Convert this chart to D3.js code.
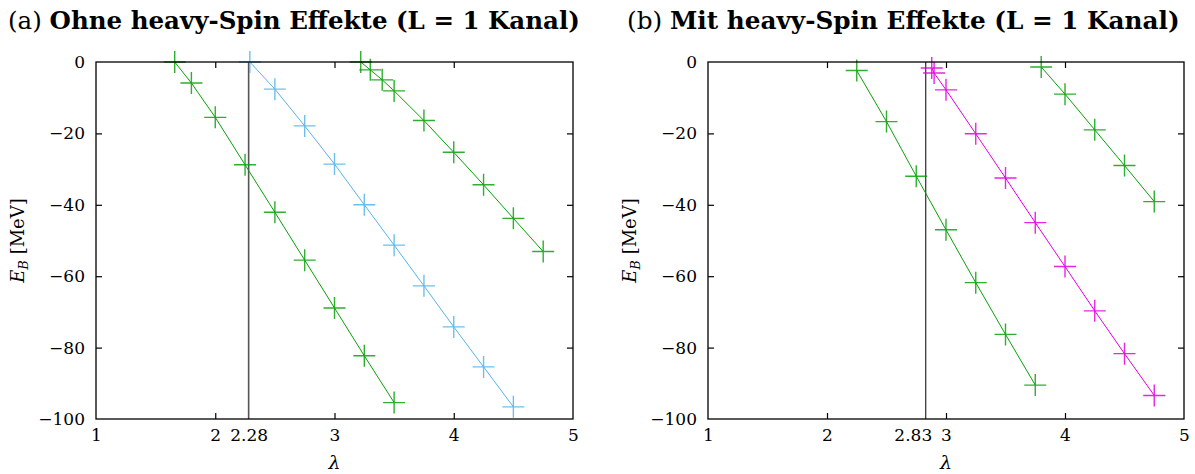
<!DOCTYPE html>
<html>
<head>
<meta charset="utf-8">
<script src="https://cdn.jsdelivr.net/npm/d3@7"></script>
<style>
html,body{margin:0;padding:0;background:#fff;}
svg{display:block;}
text{font-family:"DejaVu Serif",serif;fill:#000;}
</style>
</head>
<body>
<script>
// ---- data ----
const xTicksA = [1, 2, 2.28, 3, 4, 5];
const xTicksB = [1, 2, 2.83, 3, 4, 5];
const yTicks = [0, -20, -40, -60, -80, -100];
const markerA = 2.28;
const markerB = 2.83;

const a1Lambda = [1.66, 1.8, 2.0, 2.25, 2.5, 2.75, 3.0, 3.25, 3.5];
const a1E      = [0, -5.9, -15.5, -28.8, -42.1, -55.5, -68.9, -82.3, -95.4];
const a2Lambda = [2.29, 2.5, 2.75, 3.0, 3.25, 3.5, 3.75, 4.0, 4.25, 4.5];
const a2E      = [0, -7.6, -17.9, -28.6, -40.0, -51.3, -62.7, -74.2, -85.4, -96.6];
const a3Lambda = [3.22, 3.3, 3.4, 3.5, 3.75, 4.0, 4.25, 4.5, 4.75];
const a3E      = [0, -2.2, -5.0, -8.1, -16.4, -25.3, -34.4, -43.8, -53.1];

const b1Lambda = [2.25, 2.5, 2.75, 3.0, 3.25, 3.5, 3.75];
const b1E      = [-2.4, -16.7, -32.0, -47.0, -61.8, -76.3, -90.5];
const b2Lambda = [2.88, 2.9, 3.0, 3.25, 3.5, 3.75, 4.0, 4.25, 4.5, 4.75];
const b2E      = [-1.7, -3.1, -7.8, -20.1, -32.5, -45.0, -57.3, -69.7, -81.7, -93.4];
const b3Lambda = [3.8, 4.0, 4.25, 4.5, 4.75];
const b3E      = [-1.4, -9.0, -19.0, -29.0, -39.1];

const GREEN = "#0aa00a", BLUE = "#56b4e9", MAGENTA = "#e000e0";

const zip = (xs, ys) => xs.map((x, i) => ({x, y: ys[i]}));

const W = 1195, H = 474;
const svg = d3.select("body").append("svg").attr("width", W).attr("height", H);

function panel(opt) {
  const x = d3.scaleLinear().domain([1, 5]).range([opt.x0, opt.x1]);
  const y = d3.scaleLinear().domain([-100, 0]).range([419, 62]);
  const g = svg.append("g");

  // vertical marker line
  g.append("line")
    .attr("x1", x(opt.marker)).attr("x2", x(opt.marker))
    .attr("y1", y(0)).attr("y2", y(-100))
    .attr("stroke", opt.markerColor).attr("stroke-width", opt.markerWidth);

  // series
  opt.series.forEach(s => {
    const pts = zip(s.lx, s.ly);
    g.append("path").datum(pts)
      .attr("fill", "none").attr("stroke", s.color).attr("stroke-width", 1)
      .attr("d", d3.line().x(d => x(d.x)).y(d => y(d.y)));
    const m = 11;
    g.selectAll(null).data(pts).enter().append("path")
      .attr("fill", "none").attr("stroke", s.color).attr("stroke-width", 1.4)
      .attr("stroke-opacity", 0.85)
      .attr("d", d => `M${x(d.x)-m},${y(d.y)}H${x(d.x)+m}M${x(d.x)},${y(d.y)-m}V${y(d.y)+m}`);
  });

  // axes
  const fs = 17;
  const xb = d3.axisBottom(x).tickValues(opt.xticks).tickSize(-6).tickPadding(10)
    .tickFormat(d => d3.format("")(d));
  const gx = g.append("g").attr("transform", `translate(0,${y(-100)})`).call(xb);
  const xt = d3.axisTop(x).tickValues(opt.xticks.filter(v => v !== opt.marker)).tickSize(-6).tickFormat("");
  const gxt = g.append("g").attr("transform", `translate(0,${y(0)})`).call(xt);
  const yl = d3.axisLeft(y).tickValues(yTicks).tickSize(-6).tickPadding(11)
    .tickFormat(d => d < 0 ? "\u2212" + Math.abs(d) : String(d));
  const gy = g.append("g").attr("transform", `translate(${x(1)},0)`).call(yl);
  const yr = d3.axisRight(y).tickValues(yTicks).tickSize(-6).tickFormat("");
  const gyr = g.append("g").attr("transform", `translate(${x(5)},0)`).call(yr);
  [gx, gxt, gy, gyr].forEach(a => {
    a.select(".domain").remove();
    a.attr("font-family", null);
    a.selectAll(".tick line").attr("stroke", "#000").attr("stroke-width", 1.2);
    a.selectAll("text").attr("font-size", fs);
  });
  gx.selectAll(".tick").filter(d => d === opt.marker).select("text").attr("dx", opt.markerDx);
  // remove corner ticks drawn on the border
  [gx, gxt].forEach(a => a.selectAll(".tick").filter(d => d === 1 || d === 5).select("line").remove());
  [gy, gyr].forEach(a => a.selectAll(".tick").filter(d => d === 0 || d === -100).select("line").remove());
  gx.selectAll(".tick").filter(d => d === opt.marker).select("line").remove();

  // border
  g.append("rect").attr("x", x(1)).attr("y", y(0))
    .attr("width", x(5) - x(1)).attr("height", y(-100) - y(0))
    .attr("fill", "none").attr("stroke", "#000").attr("stroke-width", 1.3);

  // axis labels
  g.append("text").attr("x", (x(1) + x(5)) / 2).attr("y", 469)
    .attr("text-anchor", "middle").attr("font-size", 19).attr("font-style", "italic").text("\u03bb");
  const yt = g.append("text")
    .attr("transform", `translate(${opt.ylabX},${(y(0) + y(-100)) / 2}) rotate(-90)`)
    .attr("text-anchor", "middle").attr("font-size", 18);
  yt.append("tspan").attr("font-style", "italic").text("E");
  yt.append("tspan").attr("font-style", "italic").attr("font-size", 13).attr("dy", 4).text("B");
  yt.append("tspan").attr("dy", -4).text(" [MeV]");

  // title
  const t = g.append("text").attr("x", opt.tx0).attr("y", 29).attr("font-size", 22);
  t.append("tspan").text(opt.tag + " ");
  t.append("tspan").attr("font-weight", "bold").text(opt.title);
  // fit title to target width
  const w = t.node().getComputedTextLength();
  const fsT = 22 * (opt.tx1 - opt.tx0) / w;
  t.attr("font-size", fsT);
}

panel({
  x0: 96, x1: 573, marker: markerA, markerColor: "#555", markerWidth: 1.6, markerDx: 0,
  xticks: xTicksA, ylabX: 24, tx0: 8, tx1: 580,
  tag: "(a)", title: "Ohne heavy-Spin Effekte (L = 1 Kanal)",
  series: [
    {lx: a1Lambda, ly: a1E, color: GREEN},
    {lx: a2Lambda, ly: a2E, color: BLUE},
    {lx: a3Lambda, ly: a3E, color: GREEN}
  ]
});
panel({
  x0: 708, x1: 1184, marker: markerB, markerColor: "#000", markerWidth: 1, markerDx: -13,
  xticks: xTicksB, ylabX: 636, tx0: 627, tx1: 1180,
  tag: "(b)", title: "Mit heavy-Spin Effekte (L = 1 Kanal)",
  series: [
    {lx: b1Lambda, ly: b1E, color: GREEN},
    {lx: b2Lambda, ly: b2E, color: MAGENTA},
    {lx: b3Lambda, ly: b3E, color: GREEN}
  ]
});
</script>
</body>
</html>
